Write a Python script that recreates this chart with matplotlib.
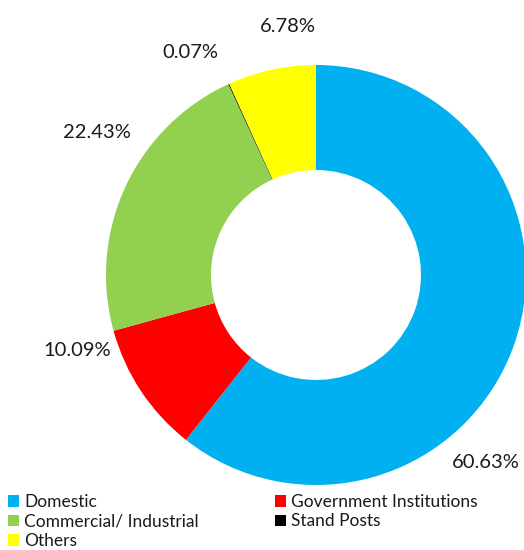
import matplotlib

matplotlib.use("Agg")
import matplotlib.pyplot as plt
from matplotlib.patches import Patch

plt.rcParams["font.family"] = ["Lato", "DejaVu Sans"]

# Share of connections by category (%), clockwise from 12 o'clock
categories = ["Domestic", "Government Institutions", "Commercial/ Industrial", "Stand Posts", "Others"]
shares = [60.63, 10.09, 22.43, 0.07, 6.78]
colors = ["#00B0F0", "#FF0000", "#92D050", "#000000", "#FFFF00"]

# legend reads down the first column, then the second
legend_order = ["Domestic", "Commercial/ Industrial", "Others", "Government Institutions", "Stand Posts"]

# where each percentage label sits (pixels, y measured from the bottom)
label_xy = [(486, 87), (77, 200), (97, 418), (190, 497), (288, 523)]

W, H = 524, 550
fig = plt.figure(figsize=(W / 100, H / 100), dpi=100)
ax = fig.add_axes([0, 0, 1, 1])

wedges, texts = ax.pie(
    shares,
    colors=colors,
    labels=[f"{v:.2f}%" for v in shares],
    startangle=90,
    counterclock=False,
    center=(316, 275),
    radius=210,
    wedgeprops=dict(width=105, linewidth=0),
    textprops=dict(fontsize=14.5, color="#1a1a1a"),
    frame=True,
)
ax.set_xlim(0, W)
ax.set_ylim(0, H)
ax.set_aspect("equal")
ax.axis("off")

for t, (x, y) in zip(texts, label_xy):
    t.set_position((x, y))
    t.set_ha("center")
    t.set_va("center")

lookup = dict(zip(categories, colors))
handles = [Patch(facecolor=lookup[c], edgecolor="none", label=c) for c in legend_order]
leg = fig.legend(
    handles=handles,
    loc="upper left",
    bbox_to_anchor=(8 / W, 1 - 494 / H),
    ncol=2,
    frameon=False,
    fontsize=12.5,
    handlelength=0.65,
    handleheight=0.65,
    handletextpad=0.3,
    labelspacing=0.2,
    columnspacing=4.35,
    borderpad=0,
    borderaxespad=0,
)
for txt in leg.get_texts():
    txt.set_color("#1a1a1a")

fig.savefig("out.png", dpi=100)
